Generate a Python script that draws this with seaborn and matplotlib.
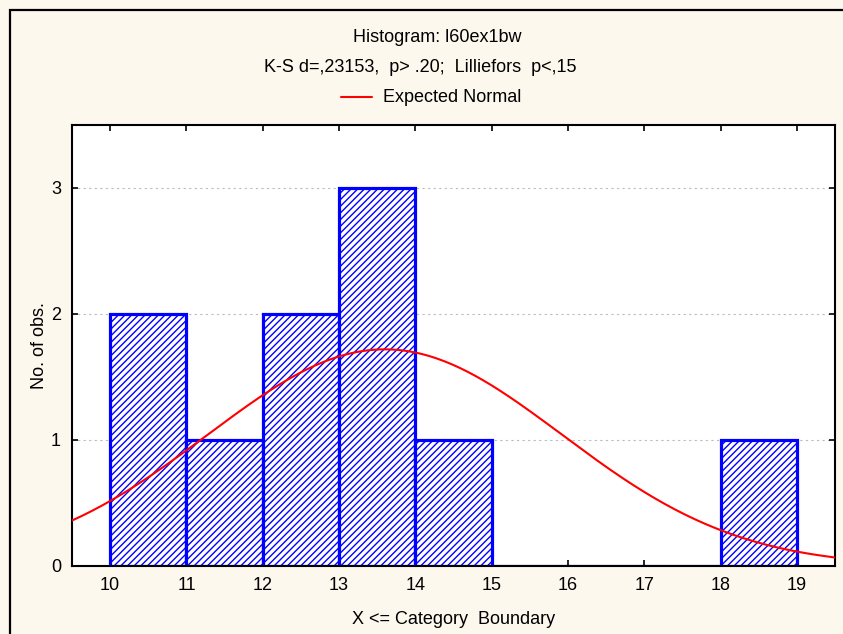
import numpy as np
import pandas as pd
import seaborn as sns
import matplotlib.pyplot as plt
from matplotlib.patches import Rectangle

# --- data ---
bin_edges = [10, 11, 12, 13, 14, 15, 16, 17, 18, 19]
bin_counts = [2, 1, 2, 3, 1, 0, 0, 0, 1]
x_ticks = [10, 11, 12, 13, 14, 15, 16, 17, 18, 19]
y_ticks = [0, 1, 2, 3]

# expected normal fit (mean / sd estimated from the curve)
fit_mean = 13.6
fit_sd = 2.32
n_obs = sum(bin_counts)

title = "Histogram: l60ex1bw"
subtitle = "K-S d=,23153,  p> .20;  Lilliefors  p<,15"

sns.set_theme(style="white")
plt.rcParams['font.family'] = ['Liberation Sans', 'DejaVu Sans']
plt.rcParams['hatch.linewidth'] = 1.0
plt.rcParams['text.color'] = 'black'
plt.rcParams['axes.labelcolor'] = 'black'
plt.rcParams['xtick.color'] = 'black'
plt.rcParams['ytick.color'] = 'black'

FS = 13
bg = '#fdf8ee'
fig = plt.figure(figsize=(8.43, 6.34), dpi=100, facecolor=bg)
ax = fig.add_axes([72 / 843, 68 / 634, (835 - 72) / 843, (566 - 125) / 634])
ax.set_facecolor('white')

centers = [(a + b) / 2 for a, b in zip(bin_edges[:-1], bin_edges[1:])]
df = pd.DataFrame({'x': centers, 'n': bin_counts})
sns.histplot(data=df, x='x', weights='n', bins=bin_edges, ax=ax,
             facecolor='white', edgecolor='#0000ff', linewidth=2.3,
             hatch='/////', alpha=1, zorder=2)

# expected normal curve scaled to counts
xs = np.linspace(9.5, 19.5, 300)
ys = n_obs * 1.0 / (fit_sd * np.sqrt(2 * np.pi)) * np.exp(-0.5 * ((xs - fit_mean) / fit_sd) ** 2)
sns.lineplot(x=xs, y=ys, ax=ax, color='#ff0000', linewidth=1.5, zorder=3)

ax.set_xlim(9.5, 19.5)
ax.set_ylim(0, 3.5)
ax.set_xticks(x_ticks)
ax.set_yticks(y_ticks)
ax.tick_params(direction='in', length=4, width=1.2, color='black',
               labelsize=FS, labelcolor='black', top=True, right=True,
               bottom=True, left=True, pad=8)
ax.yaxis.grid(True, linestyle=(0, (2, 3)), color='#bbbbbb', linewidth=0.8, zorder=0)
ax.set_axisbelow(True)
for s in ax.spines.values():
    s.set_color('black')
    s.set_linewidth(1.5)

ax.set_xlabel("X <= Category  Boundary", fontsize=FS, labelpad=12)
ax.set_ylabel("No. of obs.", fontsize=FS, labelpad=2)

fig.text(437 / 843, 1 - 38 / 634, title, ha='center', va='center', fontsize=FS)
fig.text(420 / 843, 1 - 68 / 634, subtitle, ha='center', va='center', fontsize=FS)
fig.add_artist(plt.Line2D([341 / 843, 372 / 843], [1 - 97 / 634] * 2, color='#ff0000', linewidth=1.5))
fig.text(383 / 843, 1 - 97 / 634, "Expected Normal", ha='left', va='center', fontsize=FS)

# outer frame of the graph window
fig.add_artist(Rectangle((10 / 843, -0.1), 1.2, 1 - 10 / 634 + 0.1,
                         transform=fig.transFigure, fill=False,
                         edgecolor='black', linewidth=1.6))

fig.savefig("out.png", dpi=100, facecolor=bg)
